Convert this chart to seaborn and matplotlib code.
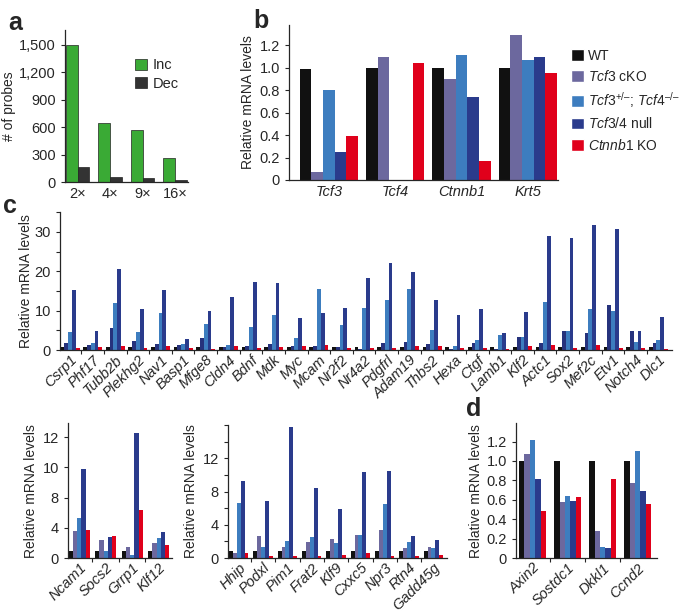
import numpy as np
import pandas as pd
import matplotlib
matplotlib.use('Agg')
import matplotlib.pyplot as plt
import seaborn as sns
from matplotlib.patches import Patch
from matplotlib.ticker import FixedLocator, MultipleLocator

# ── Data ──────────────────────────────────────────────────────────────────────
fold_labels = ['2×', '4×', '9×', '16×']
probes_inc = [1500, 650, 570, 260]
probes_dec = [160, 60, 40, 18]

genotypes = ['WT', 'Tcf3 cKO', 'Tcf3+/-; Tcf4-/-', 'Tcf3/4 null', 'Ctnnb1 KO']
legend_labels = ['WT', r'$\it{Tcf3}$ cKO', r'$\it{Tcf3}^{+/–}$; $\it{Tcf4}^{–/–}$',
                 r'$\it{Tcf3/4}$ null', r'$\it{Ctnnb1}$ KO']

b_genes = ['Tcf3', 'Tcf4', 'Ctnnb1', 'Krt5']
b_wt   = [0.99, 1.00, 1.00, 1.00]
b_cko  = [0.07, 1.09, 0.90, 1.29]
b_het  = [0.80, 0.00, 1.11, 1.07]
b_null = [0.25, 0.00, 0.74, 1.09]
b_ko   = [0.39, 1.04, 0.17, 0.95]

c_genes = ['Csrp1', 'Phf17', 'Tubb2b', 'Plekhg2', 'Nav1', 'Basp1', 'Mfge8', 'Cldn4',
           'Bdnf', 'Mdk', 'Myc', 'Mcam', 'Nr2f2', 'Nr4a2', 'Pdgfrl', 'Adam19', 'Thbs2',
           'Hexa', 'Ctgf', 'Lamb1', 'Klf2', 'Actc1', 'Sox2', 'Mef2c', 'Etv1', 'Notch4', 'Dlc1']
c_wt   = [0.8, 0.8, 0.8, 0.8, 0.8, 0.8, 0.8, 0.8, 0.8, 0.8, 0.8, 0.8, 0.8, 0.8,
          0.8, 0.8, 0.8, 0.8, 0.8, 0.7, 0.8, 0.8, 0.8, 0.8, 0.8, 0.7, 0.8]
c_cko  = [1.8, 1.3, 5.6, 2.3, 1.6, 1.3, 3.1, 0.8, 1.1, 1.6, 1.1, 1.0, 0.8, 0.3,
          1.9, 2.1, 1.6, 0.3, 1.9, 0.3, 3.3, 1.9, 4.9, 4.3, 11.4, 4.8, 1.7]
c_het  = [4.5, 1.8, 11.9, 4.5, 9.5, 1.6, 6.7, 1.4, 5.9, 8.8, 3.1, 15.6, 6.3, 10.6,
          12.8, 15.6, 5.0, 1.1, 2.5, 3.7, 3.3, 12.1, 4.9, 10.5, 9.9, 2.1, 2.6]
c_null = [15.3, 4.9, 20.6, 10.4, 15.2, 2.8, 9.8, 13.4, 17.3, 17.0, 8.1, 9.4, 10.6, 18.4,
          22.1, 19.7, 12.7, 8.8, 10.3, 4.2, 9.7, 29.0, 28.5, 31.7, 30.8, 4.8, 8.3]
c_ko   = [0.4, 0.8, 0.9, 0.6, 1.0, 0.4, 0.2, 1.0, 0.6, 0.8, 1.1, 1.3, 0.4, 0.4,
          0.5, 1.0, 0.9, 0.4, 0.4, 0.3, 1.0, 1.3, 0.5, 1.2, 0.5, 0.4, 0.3]

e_genes = ['Ncam1', 'Socs2', 'Grrp1', 'Klf12']
e_wt   = [0.7, 0.7, 0.7, 0.7]
e_cko  = [2.7, 1.8, 1.1, 1.5]
e_het  = [4.0, 0.7, 0.3, 2.0]
e_null = [8.8, 2.1, 12.4, 2.6]
e_ko   = [2.8, 2.2, 4.8, 1.3]
e_ticks = [0, 3, 6, 9, 12]
e_ticklabels = ['0', '4', '8', '10', '12']

f_genes = ['Hhip', 'Podxl', 'Pim1', 'Frat2', 'Klf9', 'Cxxc5', 'Npr3', 'Rtn4', 'Gadd45g']
f_wt   = [0.9, 0.9, 0.9, 0.9, 0.9, 0.9, 0.9, 0.9, 0.9]
f_cko  = [0.6, 2.7, 1.3, 1.9, 2.3, 2.8, 3.4, 1.2, 1.3]
f_het  = [6.6, 1.3, 2.1, 2.5, 1.8, 2.8, 6.5, 1.9, 1.2]
f_null = [9.3, 6.8, 15.8, 8.4, 5.9, 10.3, 10.5, 2.6, 2.2]
f_ko   = [0.6, 0.2, 0.2, 0.3, 0.4, 0.6, 0.3, 0.3, 0.4]

d_genes = ['Axin2', 'Sostdc1', 'Dkkl1', 'Ccnd2']
d_wt   = [1.00, 1.00, 1.00, 1.00]
d_cko  = [1.07, 0.58, 0.28, 0.77]
d_het  = [1.22, 0.64, 0.11, 1.10]
d_null = [0.81, 0.59, 0.10, 0.69]
d_ko   = [0.48, 0.63, 0.81, 0.56]

# ── Style ─────────────────────────────────────────────────────────────────────
sns.set_theme(style='ticks')
plt.rcParams['font.family'] = ['Liberation Sans', 'DejaVu Sans']
plt.rcParams['mathtext.fontset'] = 'custom'
plt.rcParams['mathtext.rm'] = 'Liberation Sans'
plt.rcParams['mathtext.it'] = 'Liberation Sans:italic'
plt.rcParams['axes.linewidth'] = 0.9
for k in ['xtick.major.width', 'ytick.major.width', 'xtick.minor.width', 'ytick.minor.width']:
    plt.rcParams[k] = 0.8

BLACK = '#111111'
PURPLE = '#6c689e'
LBLUE = '#3d7dbf'
DBLUE = '#2a3b8c'
RED = '#e0001b'
pal = [BLACK, PURPLE, LBLUE, DBLUE, RED]
pal_c = [BLACK, '#26327c', LBLUE, DBLUE, RED]
FS = 10.5
LFS = 10


def long_df(genes, cols):
    df = pd.DataFrame(dict(zip(genotypes, cols)))
    df['gene'] = genes
    return df.melt(id_vars='gene', var_name='genotype', value_name='value')


def bars(ax, genes, cols, palette, width, xlim):
    sns.barplot(data=long_df(genes, cols), x='gene', y='value', hue='genotype',
                order=genes, hue_order=genotypes, palette=palette, width=width,
                saturation=1, linewidth=0, legend=False, ax=ax)
    ax.set_xlim(*xlim)
    ax.set_xlabel('')
    ax.set_ylabel('Relative mRNA levels', fontsize=LFS, labelpad=3)
    sns.despine(ax=ax)


def boundary_ticks(ax, genes):
    n = len(genes)
    ax.set_xticks(np.arange(n))
    ax.tick_params(axis='x', which='major', length=0, pad=2)
    ax.xaxis.set_minor_locator(FixedLocator(np.arange(n - 1) + 0.5))
    ax.tick_params(axis='x', which='minor', length=3, direction='out')
    ax.set_xticklabels(genes, rotation=45, ha='right', rotation_mode='anchor',
                       fontstyle='italic', fontsize=FS)


fig = plt.figure(figsize=(6.8, 6.13), dpi=100)

# ── a ─────────────────────────────────────────────────────────────────────────
ax_a = fig.add_axes([0.0956, 0.703, 0.181, 0.248])
df_a = pd.DataFrame({'fold': fold_labels * 2,
                     'dir': ['Inc'] * 4 + ['Dec'] * 4,
                     'n': probes_inc + probes_dec})
sns.barplot(data=df_a, x='fold', y='n', hue='dir', palette=['#3aaa35', '#333333'],
            width=0.72, saturation=1, edgecolor='#222222', linewidth=0.5, ax=ax_a)
ax_a.set_xlim(-0.39, 3.4)
ax_a.set_ylim(0, 1660)
ax_a.set_yticks([0, 300, 600, 900, 1200, 1500])
ax_a.set_yticklabels(['0', '300', '600', '900', '1,200', '1,500'])
ax_a.set_xlabel('')
ax_a.set_ylabel('# of probes', fontsize=LFS, labelpad=2)
ax_a.tick_params(axis='x', length=0, labelsize=FS)
ax_a.tick_params(axis='y', length=3, labelsize=FS)
ax_a.legend(loc='upper right', bbox_to_anchor=(1.03, 0.9), frameon=False, fontsize=FS,
            handlelength=0.8, handleheight=0.8, handletextpad=0.4, labelspacing=0.3)
sns.despine(ax=ax_a)

# ── b ─────────────────────────────────────────────────────────────────────────
ax_b = fig.add_axes([0.425, 0.7064, 0.396, 0.253])
bars(ax_b, b_genes, [b_wt, b_cko, b_het, b_null, b_ko], pal, 0.88, (-0.6, 3.46))
ax_b.set_ylim(0, 1.38)
ax_b.set_yticks([0, 0.2, 0.4, 0.6, 0.8, 1.0, 1.2])
ax_b.set_yticklabels(['0', '0.2', '0.4', '0.6', '0.8', '1.0', '1.2'])
ax_b.tick_params(axis='x', length=0, labelsize=FS)
ax_b.tick_params(axis='y', length=3, labelsize=FS)
for t in ax_b.get_xticklabels():
    t.set_fontstyle('italic')
handles = [Patch(facecolor=c) for c in pal]
fig.legend(handles, legend_labels, loc='upper left', bbox_to_anchor=(0.836, 0.925),
           frameon=False, fontsize=10, handlelength=0.9, handleheight=0.9,
           handletextpad=0.3, labelspacing=0.45, borderaxespad=0, borderpad=0.2)

# ── c ─────────────────────────────────────────────────────────────────────────
ax_c = fig.add_axes([0.088, 0.429, 0.9, 0.225])
bars(ax_c, c_genes, [c_wt, c_cko, c_het, c_null, c_ko], pal_c, 0.84, (-0.45, 26.6))
ax_c.set_ylim(0, 35)
ax_c.set_yticks([0, 10, 20, 30])
ax_c.yaxis.set_minor_locator(MultipleLocator(5))
ax_c.tick_params(axis='y', which='both', length=3, labelsize=FS)
ax_c.yaxis.set_label_coords(-0.044, 0.5)
boundary_ticks(ax_c, c_genes)

# ── bottom left ───────────────────────────────────────────────────────────────
ax_e = fig.add_axes([0.1, 0.0897, 0.153, 0.22])
bars(ax_e, e_genes, [e_wt, e_cko, e_het, e_null, e_ko], pal, 0.8, (-0.42, 3.5))
ax_e.set_ylim(0, 13.4)
ax_e.set_yticks(e_ticks)
ax_e.set_yticklabels(e_ticklabels)
ax_e.tick_params(axis='y', length=3, labelsize=FS)
boundary_ticks(ax_e, e_genes)

# ── bottom middle ─────────────────────────────────────────────────────────────
ax_f = fig.add_axes([0.335, 0.0897, 0.322, 0.217])
bars(ax_f, f_genes, [f_wt, f_cko, f_het, f_null, f_ko], pal, 0.8, (-0.45, 8.55))
ax_f.set_ylim(0, 16)
ax_f.set_yticks([0, 4, 8, 12])
ax_f.yaxis.set_minor_locator(MultipleLocator(2))
ax_f.tick_params(axis='y', which='both', length=3, labelsize=FS)
boundary_ticks(ax_f, f_genes)

# ── d ─────────────────────────────────────────────────────────────────────────
ax_d = fig.add_axes([0.759, 0.0897, 0.207, 0.22])
bars(ax_d, d_genes, [d_wt, d_cko, d_het, d_null, d_ko], pal, 0.77, (-0.47, 3.55))
ax_d.set_ylim(0, 1.39)
ax_d.set_yticks([0, 0.2, 0.4, 0.6, 0.8, 1.0, 1.2])
ax_d.set_yticklabels(['0', '0.2', '0.4', '0.6', '0.8', '1.0', '1.2'])
ax_d.tick_params(axis='y', length=3, labelsize=FS)
boundary_ticks(ax_d, d_genes)

# ── panel letters ─────────────────────────────────────────────────────────────
for letter, x, y in [('a', 0.012, 0.982), ('b', 0.372, 0.985),
                     ('c', 0.004, 0.684), ('d', 0.686, 0.352)]:
    fig.text(x, y, letter, fontsize=18, fontweight='bold', va='top', ha='left')

fig.savefig('out.png', dpi=100)
